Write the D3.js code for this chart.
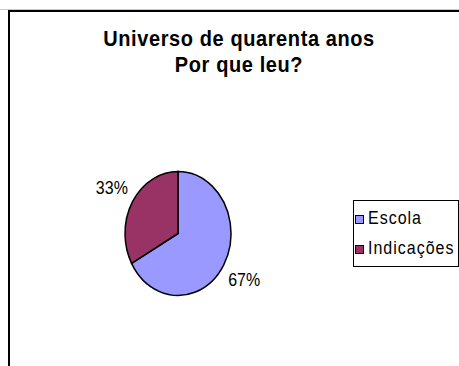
<!DOCTYPE html>
<html>
<head>
<meta charset="utf-8">
<script src="https://cdn.jsdelivr.net/npm/d3@7"></script>
<style>
  body { margin: 0; background: #fff; }
  text { font-family: Arial, "Liberation Sans", sans-serif; }
</style>
</head>
<body>
<div id="container"></div>
<script>
const width = 459;
const height = 366;

// chart data
const titleLines = ["Universo de quarenta anos", "Por que leu?"];
const categories = ["Escola", "Indicações"];
const values = [67, 33];
const colors = ["#9999FF", "#993366"];

// the original picture is stretched vertically
const stretch = 1.18;

const svg = d3.select("#container")
  .append("svg")
  .attr("width", width)
  .attr("height", height);

svg.append("rect").attr("width", width).attr("height", height).attr("fill", "#fff");

// faint sheet line above the chart area
svg.append("line")
  .attr("x1", 0).attr("x2", width)
  .attr("y1", 9.5).attr("y2", 9.5)
  .attr("stroke", "#c8c8c8").attr("stroke-width", 1);

// chart frame (runs off the right and bottom edges)
svg.append("rect")
  .attr("x", 9).attr("y", 11)
  .attr("width", 470).attr("height", 380)
  .attr("fill", "none")
  .attr("stroke", "#000")
  .attr("stroke-width", 2);

// title
svg.selectAll("text.title")
  .data(titleLines)
  .join("text")
  .attr("class", "title")
  .attr("text-anchor", "middle")
  .attr("transform", (d, i) => `translate(239,${45.5 + i * 26.5}) scale(1,1.1)`)
  .style("font-size", "20px")
  .style("font-weight", "bold")
  .style("letter-spacing", "0.6px")
  .text(d => d);

// pie (elliptical, as in the original)
const cx = 178, cy = 233.5, rx = 53, ry = 62;
const pieData = d3.pie().sort(null).value(d => d)(values);
const arc = d3.arc().innerRadius(0).outerRadius(1);

const pieG = svg.append("g")
  .attr("transform", `translate(${cx},${cy})`);

pieG.selectAll("path")
  .data(pieData)
  .join("path")
  .attr("d", arc)
  .attr("transform", `scale(${rx},${ry})`)
  .attr("fill", (d, i) => colors[i])
  .attr("stroke", "#000")
  .attr("stroke-width", 1.5)
  .attr("vector-effect", "non-scaling-stroke");

// percentage labels outside the slices
const total = d3.sum(values);
pieG.selectAll("text.pct")
  .data(pieData)
  .join("text")
  .attr("class", "pct")
  .attr("text-anchor", "middle")
  .attr("transform", d => {
    const a = (d.startAngle + d.endAngle) / 2;
    const x = Math.sin(a) * rx * 1.45;
    const y = -Math.cos(a) * ry * 1.45 + 6.5;
    return `translate(${x},${y}) scale(1,${stretch})`;
  })
  .style("font-size", "16px")
  .text(d => Math.round(d.data / total * 100) + "%");

// legend
const legend = svg.append("g").attr("transform", "translate(353,200)");
legend.append("rect")
  .attr("x", 0.5).attr("y", 0.5)
  .attr("width", 105).attr("height", 66)
  .attr("fill", "#fff")
  .attr("stroke", "#000")
  .attr("stroke-width", 1);

const item = legend.selectAll("g.item")
  .data(categories)
  .join("g")
  .attr("class", "item")
  .attr("transform", (d, i) => `translate(0,${15 + i * 30})`);

item.append("rect")
  .attr("x", 2.5).attr("y", 0.5)
  .attr("width", 8).attr("height", 8)
  .attr("fill", (d, i) => colors[i])
  .attr("stroke", "#000")
  .attr("stroke-width", 1);

item.append("text")
  .attr("transform", `translate(15,9) scale(1,${stretch})`)
  .style("font-size", "16px")
  .style("letter-spacing", "1px")
  .text(d => d);
</script>
</body>
</html>
